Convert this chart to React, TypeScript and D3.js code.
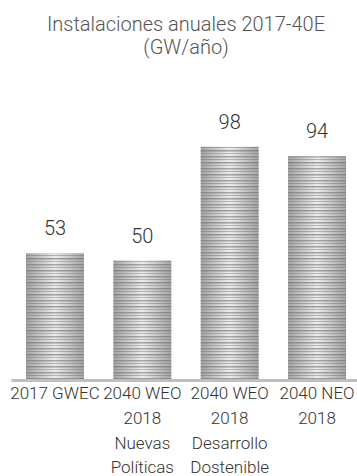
import React from "react";
import * as d3 from "d3";

const categories: string[][] = [
  ["2017 GWEC"],
  ["2040 WEO", "2018", "Nuevas", "Políticas"],
  ["2040 WEO", "2018", "Desarrollo", "Dostenible"],
  ["2040 NEO", "2018"],
];
const values: number[] = [53, 50, 98, 94];
const titleLines: string[] = ["Instalaciones anuales 2017-40E", "(GW/año)"];

const W = 357;
const H = 476;
const FONT = "Roboto, 'Noto Sans', sans-serif";

export default function App() {
  const keys = categories.map((c) => c.join(" "));
  const x = d3
    .scaleBand<string>()
    .domain(keys)
    .range([11.3, 360.7])
    .paddingInner(0.337)
    .paddingOuter(0.1685);
  const y = d3.scaleLinear().domain([0, 100]).range([379, 142]);
  const bw = x.bandwidth();

  // stripe pattern rows: [offset, height, color]
  const stripes: [number, number, string][] = [
    [0, 1.5, "rgba(110,110,110,0.55)"],
    [3, 1, "rgba(110,110,110,0.45)"],
    [6, 1.5, "rgba(110,110,110,0.6)"],
    [9, 1, "rgba(110,110,110,0.4)"],
  ];

  return (
    <svg
      width={W}
      height={H}
      style={{ position: "absolute", left: 0, top: 0, background: "#fff" }}
      fontFamily={FONT}
    >
      <defs>
        <linearGradient id="barShade" x1="0" x2="1" y1="0" y2="0">
          <stop offset="0" stopColor="#a4a4a4" />
          <stop offset="0.5" stopColor="#ececec" />
          <stop offset="1" stopColor="#a4a4a4" />
        </linearGradient>
        <pattern id="barStripes" width={8} height={12} patternUnits="userSpaceOnUse">
          {stripes.map(([o, h, c], i) => (
            <rect key={i} x={0} y={o} width={8} height={h} fill={c} />
          ))}
        </pattern>
      </defs>

      {titleLines.map((t, i) => (
        <text
          key={i}
          x={186}
          y={31 + i * 23}
          textAnchor="middle"
          fontSize={20}
          fontWeight={300}
          fill="#555"
        >
          {t}
        </text>
      ))}

      {values.map((v, i) => {
        const k = keys[i];
        const x0 = x(k)!;
        const top = y(v);
        return (
          <g key={k}>
            <rect x={x0} y={top} width={bw} height={y(0) - top} fill="url(#barShade)" />
            <rect x={x0} y={top} width={bw} height={y(0) - top} fill="url(#barStripes)" />
            <text
              x={x0 + bw / 2}
              y={top - 18}
              textAnchor="middle"
              fontSize={20}
              fontWeight={300}
              fill="#333"
            >
              {v}
            </text>
          </g>
        );
      })}

      <rect x={11.5} y={379} width={W - 11.5} height={3} fill="#bfbfbf" />

      {categories.map((lines, i) => {
        const cx = x(keys[i])! + bw / 2;
        return (
          <text
            key={keys[i]}
            textAnchor="middle"
            fontSize={17}
            fontWeight={300}
            fill="#333"
          >
            {lines.map((l, j) => (
              <tspan key={j} x={cx} y={399 + j * 24.8}>
                {l}
              </tspan>
            ))}
          </text>
        );
      })}
    </svg>
  );
}
